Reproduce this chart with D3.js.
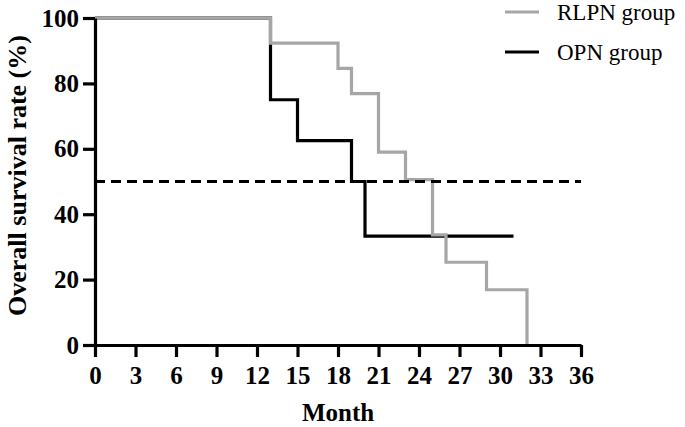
<!DOCTYPE html>
<html>
<head>
<meta charset="utf-8">
<script src="https://cdn.jsdelivr.net/npm/d3@7"></script>
<style>
  body { margin: 0; background: #fff; }
  svg text { font-family: "Liberation Serif", "Times New Roman", serif; }
</style>
</head>
<body>
<svg id="chart" width="685" height="427"></svg>
<script>
// Kaplan-Meier steps: [month, survival %]
var rlpnTimes  = [0, 13, 18, 19, 21, 23, 25, 26, 29, 32];
var rlpnValues = [100, 92.3, 84.6, 76.9, 59.0, 50.6, 33.7, 25.3, 16.9, 0];
var rlpnEnd = 32;

var opnTimes  = [0, 13, 15, 19, 20];
var opnValues = [100, 75, 62.5, 50, 33.3];
var opnEnd = 31;

var xTicks = [0, 3, 6, 9, 12, 15, 18, 21, 24, 27, 30, 33, 36];
var yTicks = [0, 20, 40, 60, 80, 100];
var medianLine = 50;

var svg = d3.select('#chart');
var x = d3.scaleLinear().domain([0, 36]).range([95, 581]);
var y = d3.scaleLinear().domain([0, 100]).range([345, 18]);

function toPoints(times, values, end) {
  var pts = times.map(function(t, i){ return [t, values[i]]; });
  pts.push([end, values[values.length - 1]]);
  return pts;
}

var line = d3.line()
  .x(function(d){ return x(d[0]); })
  .y(function(d){ return y(d[1]); })
  .curve(d3.curveStepAfter);

// OPN first, RLPN drawn over it
svg.append('path')
   .datum(toPoints(opnTimes, opnValues, opnEnd))
   .attr('d', line)
   .attr('fill', 'none')
   .attr('stroke', '#000')
   .attr('stroke-width', 3.2);

svg.append('path')
   .datum(toPoints(rlpnTimes, rlpnValues, rlpnEnd))
   .attr('d', line)
   .attr('fill', 'none')
   .attr('stroke', '#a6a6a6')
   .attr('stroke-width', 3.2);

svg.append('line')
   .attr('x1', x(0)).attr('x2', x(36))
   .attr('y1', y(medianLine)).attr('y2', y(medianLine))
   .attr('stroke', '#000')
   .attr('stroke-width', 3.2)
   .attr('stroke-dasharray', '10,6');

var xAxis = svg.append('g')
  .attr('transform', 'translate(0,' + y(0) + ')')
  .call(d3.axisBottom(x).tickValues(xTicks).tickSize(12).tickSizeOuter(0).tickPadding(9));

var yAxis = svg.append('g')
  .attr('transform', 'translate(' + x(0) + ',0)')
  .call(d3.axisLeft(y).tickValues(yTicks).tickSize(12).tickSizeOuter(0).tickPadding(4));

[xAxis, yAxis].forEach(function(a){
  a.select('.domain').attr('stroke', '#000').attr('stroke-width', 3.2);
  a.selectAll('.tick line').attr('stroke', '#000').attr('stroke-width', 3.2);
  a.selectAll('.tick text')
   .attr('fill', '#000')
   .style('font-family', '"Liberation Serif", serif')
   .style('font-weight', 'bold')
   .style('font-size', '25px');
});

svg.append('text')
   .attr('x', (x(0) + x(36)) / 2)
   .attr('y', 421)
   .attr('text-anchor', 'middle')
   .style('font-weight', 'bold')
   .style('font-size', '25px')
   .text('Month');

svg.append('text')
   .attr('transform', 'translate(26,' + ((y(0) + y(100)) / 2 - 6) + ') rotate(-90)')
   .attr('text-anchor', 'middle')
   .style('font-weight', 'bold')
   .style('font-size', '26px')
   .text('Overall survival rate (%)');

var legend = [
  {name: 'RLPN group', color: '#a6a6a6', y: 12},
  {name: 'OPN group', color: '#000', y: 52}
];
var lg = svg.selectAll('.legend').data(legend).enter().append('g').attr('class', 'legend');
lg.append('line')
  .attr('x1', 505).attr('x2', 539)
  .attr('y1', function(d){ return d.y; }).attr('y2', function(d){ return d.y; })
  .attr('stroke', function(d){ return d.color; })
  .attr('stroke-width', 3.2);
lg.append('text')
  .attr('x', 557)
  .attr('y', function(d){ return d.y + 8; })
  .style('font-size', '23px')
  .text(function(d){ return d.name; });
</script>
</body>
</html>
